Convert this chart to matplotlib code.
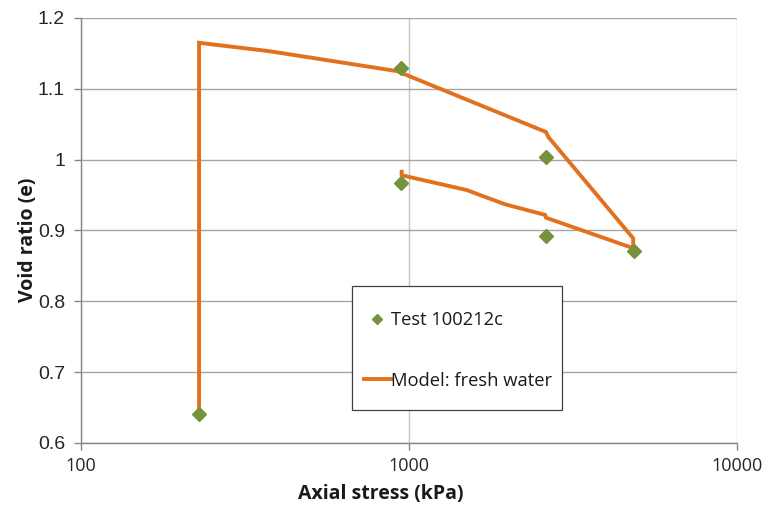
import matplotlib
matplotlib.use("Agg")
import matplotlib.pyplot as plt
from matplotlib.patches import Rectangle
from matplotlib.ticker import FixedLocator, FixedFormatter, NullLocator

# Measured oedometer test points
test_stress = [229, 946, 946, 2617, 2617, 4853]
test_void = [0.641, 1.129, 0.967, 1.004, 0.892, 0.871]

# Model curve: loading then unloading path
model_stress = [229, 229, 377, 919, 2617, 2660, 4825, 4825, 2617, 2600, 1963, 1647, 1503, 950, 950]
model_void = [0.641, 1.165, 1.153, 1.125, 1.039, 1.032, 0.889, 0.875, 0.918, 0.922, 0.937, 0.950, 0.957, 0.978, 0.983]

x_ticks = [100, 1000, 10000]
x_tick_labels = ["100", "1000", "10000"]
y_ticks = [0.6, 0.7, 0.8, 0.9, 1.0, 1.1, 1.2]
y_tick_labels = ["0.6", "0.7", "0.8", "0.9", "1", "1.1", "1.2"]

line_color = "#E2711D"
marker_color = "#76923C"
grid_color = "#A6A6A6"

fig = plt.figure(figsize=(7.68, 5.11), dpi=100)
ax = fig.add_axes([0.1055, 0.1331, 0.8541, 0.8317])

ax.plot(model_stress, model_void, color=line_color, lw=2.8, solid_joinstyle="miter",
        label="Model: fresh water", zorder=3)
ax.plot(test_stress, test_void, linestyle="none", marker="D", ms=7, color=marker_color,
        label="Test 100212c", zorder=4)

ax.set_xscale("log")
ax.set_xlim(100, 10000)
ax.set_ylim(0.6, 1.2)
ax.xaxis.set_major_locator(FixedLocator(x_ticks))
ax.xaxis.set_major_formatter(FixedFormatter(x_tick_labels))
ax.xaxis.set_minor_locator(NullLocator())
ax.yaxis.set_major_locator(FixedLocator(y_ticks))
ax.yaxis.set_major_formatter(FixedFormatter(y_tick_labels))

ax.yaxis.grid(True, color=grid_color, lw=1.0)
ax.xaxis.grid(True, color="#C4C4C4", lw=1.0)
ax.set_axisbelow(True)
for side in ("top", "right"):
    ax.spines[side].set_visible(False)
for side in ("left", "bottom"):
    ax.spines[side].set_color("#868686")
    ax.spines[side].set_linewidth(1.0)

ax.tick_params(axis="both", direction="out", length=5, width=1.0, color="#868686",
               labelcolor="#262626")
ax.tick_params(axis="y", labelsize=14, pad=6.5)
ax.tick_params(axis="x", labelsize=13, pad=5)
for lbl in ax.get_yticklabels():
    lbl.set_fontfamily("Liberation Sans")
for lbl in ax.get_xticklabels():
    lbl.set_fontfamily("Open Sans")

ax.set_xlabel("Axial stress (kPa)", fontsize=14, fontweight="bold", family="Open Sans",
              color="#1a1a1a")
ax.set_ylabel("Void ratio (e)", fontsize=14, fontweight="bold", family="Open Sans",
              color="#1a1a1a")
ax.xaxis.set_label_coords(0.457, -0.097)
ax.yaxis.set_label_coords(-0.0655, 0.478)

handles, labels = ax.get_legend_handles_labels()
leg = ax.legend(handles[::-1], labels[::-1], loc="upper left",
                bbox_to_anchor=(0.4314, 0.3106), prop={"family": "Open Sans", "size": 13.2},
                frameon=False, labelspacing=2.32, handlelength=1.45, handletextpad=0.0,
                borderpad=0, borderaxespad=0)
for h in leg.legend_handles:
    if h.get_linestyle() == "None":
        h.set_markersize(5.5)
for t in leg.get_texts():
    t.set_color("#1a1a1a")

# legend frame box
ax.add_patch(Rectangle((0.4131, 0.0776), 0.3201, 0.2918, transform=ax.transAxes,
                       facecolor="white", edgecolor="#404040", lw=0.9, zorder=5))
leg.set_zorder(6)

fig.savefig("out.png", dpi=100, facecolor="white")
